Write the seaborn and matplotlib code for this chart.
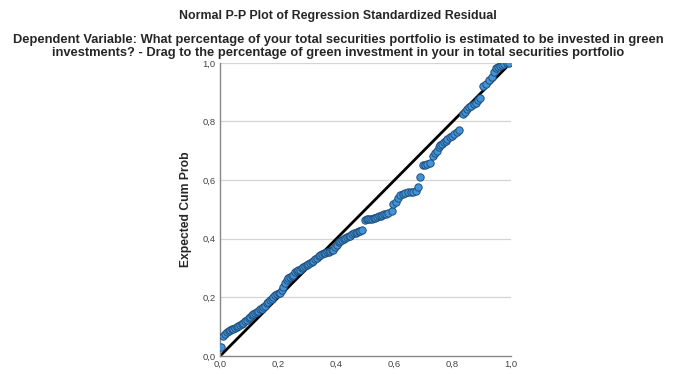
import matplotlib
matplotlib.use("Agg")
import matplotlib.pyplot as plt
import seaborn as sns
import pandas as pd
from matplotlib.ticker import FuncFormatter

observed = [0.002, 0.011, 0.017, 0.023, 0.029, 0.034, 0.040, 0.046, 0.052, 0.057,
            0.063, 0.069, 0.075, 0.080, 0.086, 0.092, 0.098, 0.103, 0.109, 0.114,
            0.120, 0.126, 0.132, 0.137, 0.143, 0.149, 0.155, 0.160, 0.166, 0.172,
            0.178, 0.183, 0.189, 0.195, 0.201, 0.206, 0.212, 0.218, 0.224, 0.229,
            0.235, 0.240, 0.246, 0.252, 0.258, 0.263, 0.269, 0.275, 0.281, 0.286,
            0.292, 0.298, 0.304, 0.309, 0.315, 0.321, 0.327, 0.333, 0.339, 0.345,
            0.350, 0.356, 0.362, 0.367, 0.373, 0.379, 0.385, 0.390, 0.396, 0.402,
            0.408, 0.414, 0.420, 0.425, 0.431, 0.437, 0.443, 0.448, 0.454, 0.460,
            0.466, 0.471, 0.477, 0.483, 0.489, 0.498, 0.504, 0.510, 0.516, 0.522,
            0.528, 0.534, 0.540, 0.546, 0.552, 0.558, 0.564, 0.570, 0.578, 0.590,
            0.596, 0.604, 0.612, 0.620, 0.628, 0.636, 0.645, 0.655, 0.665, 0.675,
            0.682, 0.688, 0.697, 0.705, 0.713, 0.722, 0.733, 0.740, 0.746, 0.752,
            0.758, 0.764, 0.770, 0.776, 0.782, 0.790, 0.798, 0.806, 0.814, 0.822,
            0.836, 0.842, 0.848, 0.856, 0.864, 0.872, 0.880, 0.888, 0.895, 0.905,
            0.915, 0.925, 0.935, 0.942, 0.948, 0.955, 0.962, 0.970, 0.978, 0.986,
            0.994]
expected = [0.030, 0.068, 0.076, 0.082, 0.087, 0.090, 0.092, 0.093, 0.096, 0.098,
            0.102, 0.106, 0.110, 0.114, 0.118, 0.123, 0.129, 0.134, 0.140, 0.145,
            0.148, 0.151, 0.155, 0.159, 0.162, 0.166, 0.172, 0.180, 0.186, 0.191,
            0.196, 0.202, 0.208, 0.212, 0.214, 0.216, 0.224, 0.236, 0.248, 0.259,
            0.265, 0.270, 0.274, 0.278, 0.285, 0.291, 0.293, 0.295, 0.300, 0.304,
            0.308, 0.311, 0.314, 0.316, 0.320, 0.325, 0.330, 0.335, 0.340, 0.344,
            0.347, 0.350, 0.352, 0.354, 0.356, 0.358, 0.360, 0.363, 0.372, 0.380,
            0.388, 0.392, 0.395, 0.398, 0.402, 0.405, 0.408, 0.411, 0.415, 0.419,
            0.421, 0.423, 0.425, 0.428, 0.431, 0.464, 0.466, 0.467, 0.468, 0.469,
            0.470, 0.472, 0.475, 0.477, 0.479, 0.481, 0.484, 0.486, 0.489, 0.494,
            0.519, 0.526, 0.540, 0.548, 0.553, 0.556, 0.558, 0.560, 0.561, 0.562,
            0.576, 0.610, 0.650, 0.653, 0.655, 0.657, 0.683, 0.692, 0.700, 0.712,
            0.720, 0.724, 0.730, 0.733, 0.740, 0.746, 0.752, 0.756, 0.763, 0.770,
            0.826, 0.833, 0.842, 0.848, 0.853, 0.858, 0.864, 0.874, 0.881, 0.922,
            0.928, 0.940, 0.950, 0.968, 0.982, 0.986, 0.990, 0.993, 0.996, 0.998,
            1.000]
ref_line = [0.0, 1.0]
tick_values = [0.0, 0.2, 0.4, 0.6, 0.8, 1.0]

title = "Normal P-P Plot of Regression Standardized Residual"
subtitle = ("Dependent Variable: What percentage of your total securities portfolio is estimated to be invested in green\n"
            "investments? - Drag to the percentage of green investment in your in total securities portfolio")
ylabel = "Expected Cum Prob"

sns.set_style("white")
plt.rcParams["font.family"] = ["Liberation Sans", "DejaVu Sans"]

df = pd.DataFrame({"observed": observed, "expected": expected})
ref = pd.DataFrame({"x": ref_line, "y": ref_line})

fig = plt.figure(figsize=(6.73, 3.74), dpi=100)
ax = fig.add_axes([0.327, 0.048, 0.432, 0.784])

for v in tick_values[1:]:
    ax.axhline(v, color="#d4d4d4", lw=0.9, zorder=0)

sns.lineplot(data=ref, x="x", y="y", ax=ax, color="black", lw=2.0, zorder=2)
sns.scatterplot(data=df, x="observed", y="expected", ax=ax, s=28,
                color="#4393d8", edgecolor="#1f4e7a", linewidth=0.7, zorder=3)

ax.set_xlim(0, 1)
ax.set_ylim(0, 1)
ax.set_xticks(tick_values)
ax.set_yticks(tick_values)
fmt = FuncFormatter(lambda v, p: f"{v:.1f}".replace(".", ","))
ax.xaxis.set_major_formatter(fmt)
ax.yaxis.set_major_formatter(fmt)
ax.tick_params(axis="both", labelsize=6.8, colors="#444444", length=0, pad=3)
ax.set_xlabel("")
ax.set_ylabel(ylabel, fontsize=8.7, fontweight="bold")
ax.yaxis.set_label_coords(-0.095, 0.5)
for s in ["top", "right"]:
    ax.spines[s].set_visible(False)
for s in ["left", "bottom"]:
    ax.spines[s].set_color("#888888")
    ax.spines[s].set_linewidth(1.0)

fig.text(0.502, 0.958, title, ha="center", va="center", fontsize=8.9, fontweight="bold")
fig.text(0.502, 0.875, subtitle, ha="center", va="center", fontsize=9.3,
         fontweight="bold", linespacing=1.12)

fig.savefig("out.png", dpi=100)
